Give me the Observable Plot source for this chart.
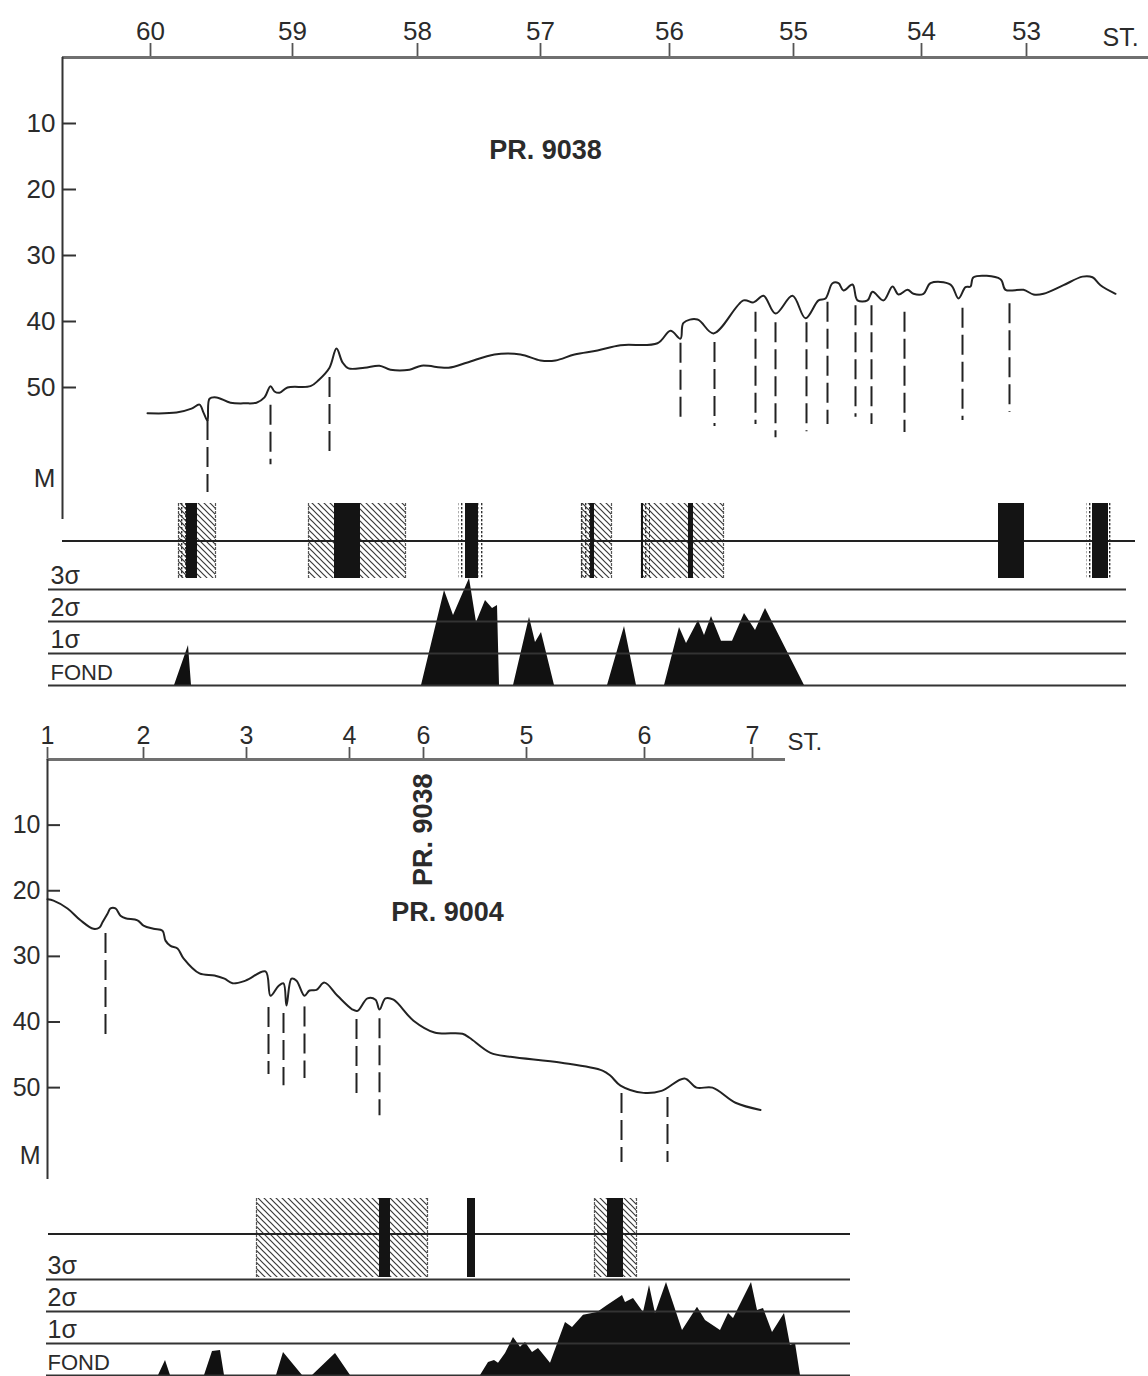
<!DOCTYPE html>
<html>
<head>
<meta charset="utf-8">
<script src="https://cdn.jsdelivr.net/npm/d3@7"></script>
<script src="https://cdn.jsdelivr.net/npm/@observablehq/plot@0.6"></script>
<style>
  html, body { margin: 0; padding: 0; background: #fff; }
  #chart { position: relative; width: 1148px; height: 1376px; overflow: hidden; background: #fff; }
</style>
</head>
<body>
<div id="chart">
<svg width="0" height="0" style="position:absolute">
  <defs>
    <pattern id="hatch" patternUnits="userSpaceOnUse" width="6" height="6">
      <path d="M-1,-1 L7,7 M-1,5 L1,7 M5,-1 L7,1" stroke="#3a3a3a" stroke-width="1.2"/>
    </pattern>
    <pattern id="stipple" patternUnits="userSpaceOnUse" width="4" height="4">
      <rect x="1" y="0" width="1.4" height="2.3" fill="#333"/>
    </pattern>
  </defs>
</svg>
</div>
<script>
// ---------------- DATA ----------------
// Station axis (distance along profile, km)
const topStationLabels = ["60", "59", "58", "57", "56", "55", "54", "53"];
const topStationDist   = [0.88, 2.30, 3.55, 4.78, 6.07, 7.31, 8.59, 9.64];
const botStationLabels = ["1", "2", "3", "4", "6", "5", "6", "7"];
const botStationDist   = [0, 0.96, 1.99, 3.02, 3.76, 4.79, 5.97, 7.05];
const depthTicks = [10, 20, 30, 40, 50];

// Profile PR. 9038 : bottom depth (m)
const topProfileDist = [0.85,1.14,1.29,1.37,1.41,1.45,1.47,1.54,1.68,1.83, 1.94,2.02,2.08,2.12,2.17,2.25,2.48,2.56,2.67,2.74,
  2.80,2.86,3.02,3.17,3.28,3.47,3.59,3.86,4.05,4.32, 4.58,4.78,4.93,5.12,5.35,5.58,5.95,6.08,6.18,6.21,
  6.35,6.51,6.81,6.91,7.01,7.13,7.30,7.43,7.56,7.63, 7.70,7.76,7.81,7.90,7.95,8.05,8.10,8.21,8.30,8.36,
  8.45,8.51,8.61,8.68,8.88,8.96,9.03,9.08,9.11,9.38, 9.43,9.61,9.71,9.81,10.01,10.20,10.30,10.38,10.53];
const topProfileDepth = [53.9,53.8,53.2,52.6,53.8,55.0,51.7,51.5,52.3,52.4, 52.3,51.5,49.8,50.6,50.8,50.0,49.8,48.9,47.0,44.1,
  46.2,47.1,47.0,46.7,47.3,47.3,46.7,47.0,46.2,45.0, 45.0,45.9,45.9,45.0,44.4,43.6,43.3,41.4,42.6,40.2,
  39.7,41.8,36.8,37.1,36.1,38.8,36.1,39.5,36.8,36.5, 34.2,34.2,35.3,34.4,36.8,36.8,35.5,36.8,34.7,35.9,
  35.2,35.8,35.8,34.2,34.4,36.5,34.8,34.7,33.3,33.6, 35.2,35.2,35.9,35.8,34.5,33.2,33.3,34.5,35.8];
// Faults (dashed) PR. 9038
const topFaultDist   = [1.45, 2.08, 2.67, 6.18, 6.52, 6.93, 7.13, 7.44, 7.65, 7.93, 8.09, 8.42, 9.00, 9.47];
const topFaultTop    = [55.0, 52.7, 48.5, 43.3, 43.2, 38.6, 40.2, 40.2, 37.1, 37.6, 37.6, 38.6, 38.0, 37.3];
const topFaultBottom = [65.9, 61.7, 60.2, 54.5, 55.9, 55.6, 57.6, 56.7, 55.6, 54.5, 55.6, 56.8, 55.0, 53.8];
// Zones PR. 9038 [from, to] km
const topHatch   = [[1.16,1.53],[2.46,3.43],[5.19,5.49],[5.79,6.61]];
const topStipple = [[1.16,1.24],[3.96,4.23],[5.19,5.28],[5.81,5.88],[10.24,10.50]];
const topSolid   = [[1.24,1.35],[2.72,2.98],[4.03,4.16],[5.28,5.32],[5.79,5.81],[6.26,6.31],[9.36,9.62],[10.30,10.46]];
// Anomaly level (in sigma) PR. 9038
const topAnomDist  = [1.12,1.26,1.29, 3.59,3.82,3.91,4.07,4.14,4.23,4.30,4.35,4.37, 4.51,4.67,4.73,4.79,4.92,
  5.45,5.62,5.74, 6.02,6.17,6.24,6.36,6.42,6.49,6.59,6.70,6.82,6.93,7.03,7.42];
const topAnomLevel = [0,1.25,0, 0,2.97,2.19,3.34,1.97,2.66,2.41,2.5,0, 0,2.13,1.34,1.66,0,
  0,1.84,0, 0,1.81,1.31,2.03,1.56,2.16,1.38,1.38,2.25,1.72,2.41,0];

// Profile PR. 9004
const botProfileDist = [0.00,0.06,0.20,0.33,0.46,0.52,0.55,0.60,0.63,0.68, 0.73,0.78,0.90,0.96,1.06,1.15,1.18,1.23,1.30,1.36,
  1.52,1.67,1.77,1.85,1.98,2.18,2.23,2.31,2.36,2.39, 2.44,2.49,2.57,2.62,2.69,2.77,2.90,3.05,3.10,3.20,
  3.28,3.32,3.38,3.46,3.66,3.87,4.15,4.22,4.43,4.63, 5.14,5.55,5.63,5.73,5.96,6.14,6.37,6.49,6.65,6.88, 7.13];
const botProfileDepth = [21.3,21.5,22.7,24.5,25.8,25.6,24.8,23.5,22.7,22.7, 23.8,24.2,24.5,25.3,25.8,26.1,27.6,28.4,28.8,30.3,
  32.6,32.9,33.4,34.1,33.7,32.3,36.0,34.5,34.1,37.5, 33.4,33.7,36.0,35.2,35.1,34.0,36.0,38.1,38.3,36.4,
  36.6,38.1,36.4,36.6,39.8,41.6,41.8,42.4,44.7,45.3, 46.2,47.4,48.2,49.7,50.8,50.5,48.6,50.0,50.0,52.3, 53.4];
const botFaultDist   = [0.58, 2.21, 2.36, 2.57, 3.09, 3.32, 5.74, 6.20];
const botFaultTop    = [26.5, 37.8, 38.7, 37.7, 39.6, 39.5, 50.9, 51.5];
const botFaultBottom = [42.1, 48.0, 49.7, 48.6, 50.9, 54.3, 61.4, 61.4];
const botHatch = [[2.09,3.80],[5.47,5.89]];
const botSolid = [[3.32,3.43],[4.20,4.28],[5.60,5.76]];
const botAnomDist  = [1.11,1.18,1.23, 1.57,1.65,1.73,1.77, 2.29,2.36,2.55, 2.65,2.88,3.03,
  4.33,4.41,4.47,4.51,4.58,4.66,4.73,4.78,4.85,4.91, 5.03,5.18,5.25,5.36,5.50,5.60,5.75,5.78,5.86,5.96,
  6.02,6.08,6.19,6.35,6.50,6.58,6.73,6.81,6.86,7.04, 7.10,7.16,7.25,7.37,7.43,7.48,7.53];
const botAnomLevel = [0,0.47,0, 0,0.75,0.78,0, 0,0.72,0, 0,0.69,0,
  0,0.41,0.47,0.38,0.69,1.19,0.88,1.03,0.72,0.84, 0.38,1.66,1.5,1.88,1.97,2.19,2.5,2.28,2.41,1.97,
  2.81,1.94,2.91,1.41,2.13,1.72,1.41,1.94,1.78,2.91, 2.03,2.09,1.34,1.94,0.94,1.0,0];

const sigmaLevels = [1, 2, 3];
const sigmaLabels = ["1σ", "2σ", "3σ"];
const fondLabel = "FOND";

// ---------------- DRAWING ----------------
const W = 1148;
const chart = document.getElementById("chart");
const baseStyle = {background: "transparent", overflow: "visible", color: "#2b2b2b",
  fontFamily: '"Liberation Sans", Arial, Helvetica, sans-serif'};
const zip = (xs, ys, kx, ky) => xs.map((v, i) => ({[kx]: v, [ky]: ys[i]}));
function place(svg, top) {
  svg.style.position = "absolute";
  svg.style.left = "0px";
  svg.style.top = top + "px";
  chart.appendChild(svg);
}

function profilePanel(o) {
  const labelMap = new Map(o.stationDist.map((d, i) => [d, o.stationLabels[i]]));
  const profile = zip(o.profileDist, o.profileDepth, "dist", "depth");
  const faults = o.faultDist.map((d, i) => ({dist: d, top: o.faultTop[i], bottom: o.faultBottom[i]}));
  return Plot.plot({
    width: W, height: o.height, marginTop: o.marginTop, marginBottom: 0, marginLeft: 0, marginRight: 0,
    style: baseStyle,
    x: {domain: o.xDomain},
    y: {domain: [0, o.yMax], reverse: true, axis: null},
    marks: [
      Plot.axisX({anchor: "top", ticks: o.stationDist, tickFormat: d => labelMap.get(d),
        tickSize: o.tickSize, tickPadding: 3, fontSize: o.tickFont, stroke: "#555", strokeWidth: 1.8, label: null}),
      Plot.ruleY([0], {x1: 0, x2: o.axisEnd, stroke: "#707070", strokeWidth: 2.8}),
      Plot.ruleX([0], {y1: 0, y2: o.yMax, stroke: "#333", strokeWidth: 2}),
      Plot.ruleY(depthTicks, {x1: 0, x2: o.yTickLen, stroke: "#333", strokeWidth: 2}),
      Plot.text(depthTicks, {x: 0, y: d => d, text: d => String(d), dx: -7, textAnchor: "end", fontSize: o.tickFont}),
      Plot.text([o.unit], {x: 0, y: "depth", text: "label", dx: -7, textAnchor: "end", fontSize: o.tickFont}),
      Plot.text([o.st], {x: "dist", y: 0, text: "label", dy: o.stDy, textAnchor: "start", fontSize: o.tickFont - 1}),
      Plot.ruleX(faults, {x: "dist", y1: "top", y2: "bottom", stroke: "#222", strokeWidth: 2, strokeDasharray: "20,7"}),
      Plot.line(profile, {x: "dist", y: "depth", curve: "catmull-rom", stroke: "#222", strokeWidth: 2}),
      ...o.titles.map(t => Plot.text([t], {x: "dist", y: "depth", text: "label", fontWeight: "bold",
        fontSize: 27, rotate: t.rotate || 0}))
    ]
  });
}

function bandPanel(o) {
  return Plot.plot({
    width: W, height: o.height, margin: 0,
    style: baseStyle,
    x: {domain: o.xDomain, axis: null},
    y: {domain: o.yDomain, axis: null},
    marks: [
      Plot.rect(o.hatch, {x1: d => d[0], x2: d => d[1], fill: "url(#hatch)"}),
      Plot.ruleX(o.hatch.flat(), {stroke: "#555", strokeWidth: 1.2, strokeDasharray: "3,1"}),
      Plot.rect(o.stipple, {x1: d => d[0], x2: d => d[1], fill: "url(#stipple)"}),
      Plot.ruleY([0], {x1: o.lineFrom, x2: o.lineTo, stroke: "#222", strokeWidth: 2}),
      Plot.rect(o.solid, {x1: d => d[0], x2: d => d[1], fill: "#141414"})
    ]
  });
}

function sigmaPanel(o) {
  const anom = zip(o.anomDist, o.anomLevel, "dist", "level");
  return Plot.plot({
    width: W, height: o.height, marginTop: o.marginTop, marginBottom: o.marginBottom, marginLeft: 0, marginRight: 0,
    style: baseStyle,
    x: {domain: o.xDomain, axis: null},
    y: {domain: [0, 3], axis: null},
    marks: [
      Plot.areaY(anom, {x: "dist", y: "level", fill: "#111", curve: "linear"}),
      Plot.ruleY([0, ...sigmaLevels], {x1: o.lineFrom, x2: o.lineTo, stroke: "#333", strokeWidth: 2.2}),
      Plot.text(sigmaLevels, {x: o.labelX, y: d => d, text: (d, i) => sigmaLabels[i], dy: -14,
        textAnchor: "start", fontSize: 25}),
      Plot.text([fondLabel], {x: o.labelX, y: 0, text: d => d, dy: -13, textAnchor: "start", fontSize: 22})
    ]
  });
}

// ---- Upper profile PR. 9038 ----
const topX = [-0.62, 10.86];
place(profilePanel({
  height: 519, marginTop: 57, xDomain: topX, yMax: 70, axisEnd: 10.86,
  stationDist: topStationDist, stationLabels: topStationLabels, tickSize: 15, tickFont: 26, yTickLen: 0.14,
  profileDist: topProfileDist, profileDepth: topProfileDepth,
  faultDist: topFaultDist, faultTop: topFaultTop, faultBottom: topFaultBottom,
  unit: {label: "M", depth: 63.8}, st: {label: "ST.", dist: 10.40}, stDy: -20,
  titles: [{label: "PR. 9038", dist: 4.83, depth: 14.1}]
}), 0);
place(bandPanel({height: 75, xDomain: topX, yDomain: [-1, 1], lineFrom: 0, lineTo: 10.73,
  hatch: topHatch, stipple: topStipple, solid: topSolid}), 503);
place(sigmaPanel({height: 112, marginTop: 11, marginBottom: 5, xDomain: topX, lineFrom: -0.14, lineTo: 10.64,
  labelX: -0.12, anomDist: topAnomDist, anomLevel: topAnomLevel}), 578);

// ---- Lower profile PR. 9004 ----
const botX = [-0.47, 11.01];
place(profilePanel({
  height: 479, marginTop: 59, xDomain: botX, yMax: 64, axisEnd: 7.38,
  stationDist: botStationDist, stationLabels: botStationLabels, tickSize: 13, tickFont: 25, yTickLen: 0.13,
  profileDist: botProfileDist, profileDepth: botProfileDepth,
  faultDist: botFaultDist, faultTop: botFaultTop, faultBottom: botFaultBottom,
  unit: {label: "M", depth: 60.4}, st: {label: "ST.", dist: 7.40}, stDy: -17,
  titles: [{label: "PR. 9004", dist: 4.00, depth: 23.3}, {label: "PR. 9038", dist: 3.76, depth: 10.7, rotate: -90}]
}), 700);
place(bandPanel({height: 79, xDomain: botX, yDomain: [-1.1, 0.9], lineFrom: 0.01, lineTo: 8.03,
  hatch: botHatch, stipple: [], solid: botSolid}), 1198);
place(sigmaPanel({height: 108, marginTop: 11, marginBottom: 1, xDomain: botX, lineFrom: -0.01, lineTo: 8.03,
  labelX: 0.0, anomDist: botAnomDist, anomLevel: botAnomLevel}), 1268);
</script>
</body>
</html>
